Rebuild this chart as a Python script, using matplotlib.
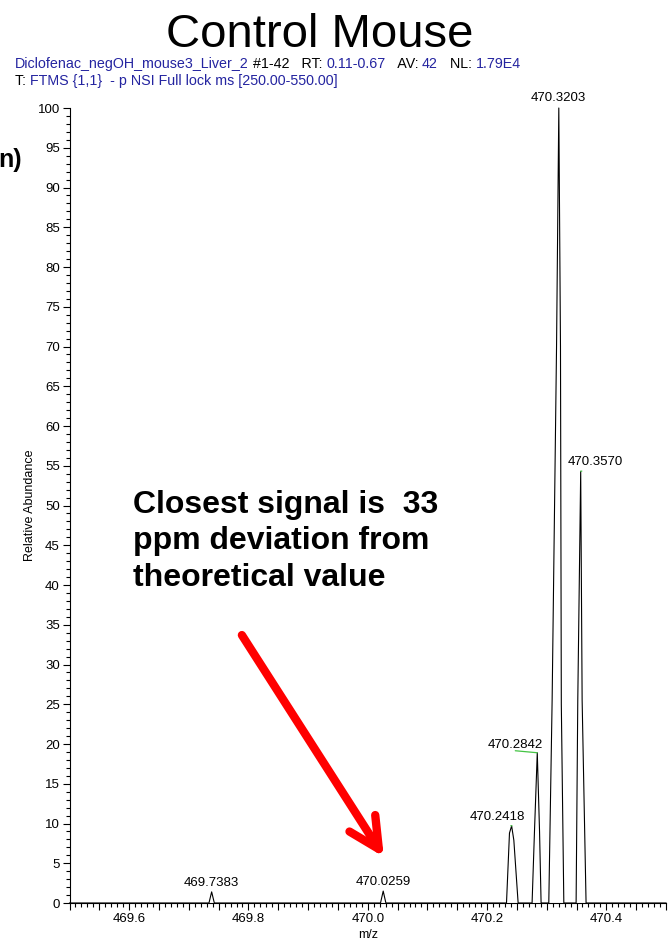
import matplotlib
matplotlib.use('Agg')
import matplotlib.pyplot as plt
from matplotlib.ticker import MultipleLocator, FuncFormatter

plt.rcParams['font.family'] = ['Liberation Sans', 'DejaVu Sans']

# profile spectrum, points (m/z, relative abundance)
profile_mz = [469.500,
              469.7338, 469.7383, 469.7428,
              470.0214, 470.0259, 470.0304,
              470.2326, 470.2376, 470.2412, 470.2449, 470.2521,
              470.2755, 470.2795, 470.2842, 470.2880, 470.2906,
              470.3035, 470.3091, 470.3165, 470.3203, 470.3231, 470.3245, 470.3287,
              470.3493, 470.3521, 470.3570, 470.3594, 470.3660,
              470.500]
profile_int = [0,
               0, 1.4, 0,
               0, 1.5, 0,
               0, 8.8, 9.7, 7.9, 0,
               0, 9.0, 18.9, 9.0, 0,
               0, 25.5, 70, 100, 70, 25, 0,
               0, 25.5, 54.3, 25.5, 0,
               0]

# labelled centroids
peak_mz = [469.7383, 470.0259, 470.2418, 470.2842, 470.3203, 470.3570]
peak_int = [1.4, 1.5, 9.7, 18.9, 100, 54.3]
peak_labels = ['469.7383', '470.0259', '470.2418', '470.2842', '470.3203', '470.3570']
# label offsets in pixels (dx, dy)
label_off = [(0, 9), (0, 9), (-15, 9), (-22, 8), (0, 10), (15, 9)]

blue = '#2424a0'
header1 = [('Diclofenac_negOH_mouse3_Liver_2', blue), (' #1-42   RT: ', 'black'),
           ('0.11-0.67', blue), ('   AV: ', 'black'), ('42', blue),
           ('   NL: ', 'black'), ('1.79E4', blue)]
header2 = [('T: ', 'black'), ('FTMS {1,1}  - p NSI Full lock ms [250.00-550.00]', blue)]

W, H = 668, 946
fig = plt.figure(figsize=(W / 100, H / 100), dpi=100)
ax = fig.add_axes([69.5 / W, 43 / H, (666 - 69.5) / W, (903 - 108) / H])

ax.plot(profile_mz, profile_int, color='black', lw=0.8, clip_on=False)
ax.set_xlim(469.5, 470.5)
ax.set_ylim(0, 100)
for s in ['top', 'right']:
    ax.spines[s].set_visible(False)
for s in ['left', 'bottom']:
    ax.spines[s].set_linewidth(0.8)

ax.xaxis.set_major_locator(MultipleLocator(0.05))
ax.xaxis.set_minor_locator(MultipleLocator(0.01))
ax.xaxis.set_major_formatter(FuncFormatter(
    lambda v, p: '%.1f' % v if abs(v / 0.2 - round(v / 0.2)) < 1e-6 else ''))
ax.yaxis.set_major_locator(MultipleLocator(5))
ax.yaxis.set_minor_locator(MultipleLocator(1))
ax.tick_params(which='major', length=5, width=0.8, labelsize=9.5, pad=2)
ax.tick_params(which='minor', length=3, width=0.8)

ax.set_xlabel('m/z', fontsize=9, labelpad=3)
ax.set_ylabel('Relative Abundance', fontsize=9, labelpad=1)

green = dict(arrowstyle='-', color='#44c444', lw=0.9, shrinkA=0, shrinkB=0, relpos=(0.5, 0))
for mz, h, lab, (dx, dy) in zip(peak_mz, peak_int, peak_labels, label_off):
    ax.annotate(lab, xy=(mz, h), xytext=(dx, dy), textcoords='offset pixels',
                ha='center', va='center', fontsize=9.5, annotation_clip=False,
                arrowprops=green if dx != 0 else None)

# red arrow pointing at the 470.0259 signal
ax.annotate('', xy=(470.027, 5.8), xytext=(469.789, 33.7),
            arrowprops=dict(arrowstyle='->, head_length=1.1, head_width=0.55',
                            color='red', lw=6, mutation_scale=20,
                            shrinkA=0, shrinkB=0))

fig.text(320 / W, 1 - 35 / H, 'Control Mouse', ha='center', va='center', fontsize=34)
fig.text(-2 / W, 1 - 160 / H, 'n)', ha='left', va='center', fontsize=18, weight='bold')
fig.text(133 / W, 1 - 541.5 / H, 'Closest signal is  33\nppm deviation from\ntheoretical value',
         ha='left', va='center', fontsize=23, weight='bold', linespacing=1.28)


def header_line(y, parts, size=10.3):
    t = fig.text(15 / W, 1 - y / H, parts[0][0], color=parts[0][1], fontsize=size, va='baseline')
    for s, c in parts[1:]:
        t = ax.annotate(s, xy=(1, 0), xycoords=t, color=c, fontsize=size,
                        va='bottom', annotation_clip=False)


header_line(68, header1)
header_line(85, header2)

fig.savefig('out.png', dpi=100)
